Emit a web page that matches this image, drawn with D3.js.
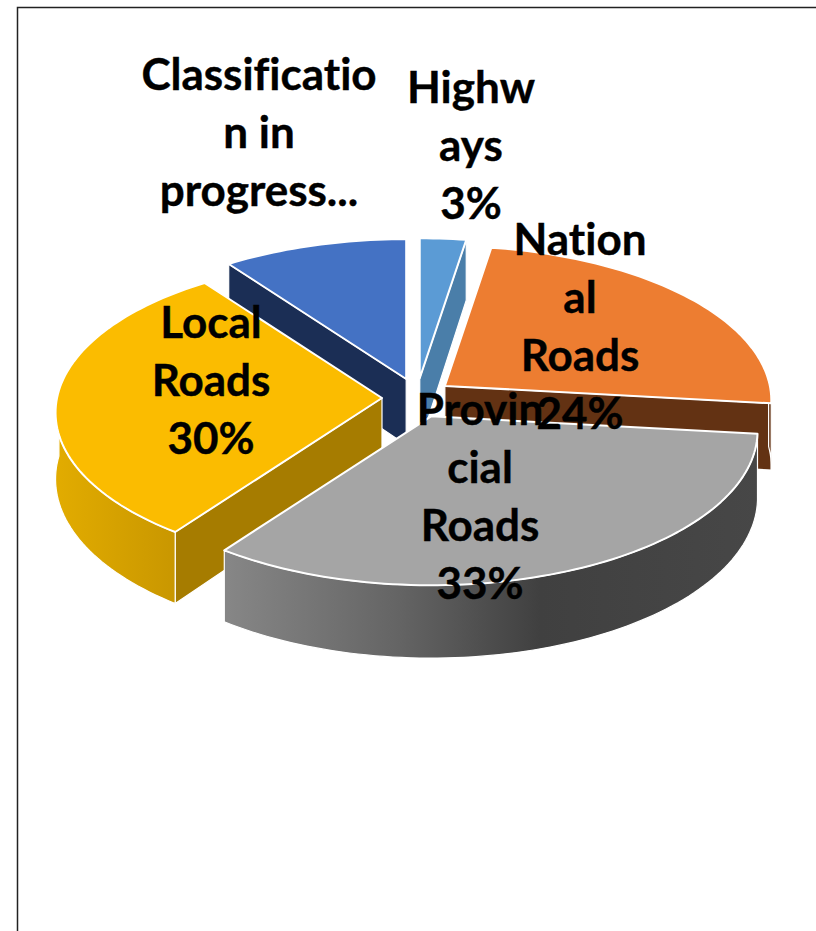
<!DOCTYPE html>
<html><head><meta charset="utf-8">
<style>html,body{margin:0;padding:0;background:#fff}svg{display:block}</style>
<script src="https://cdn.jsdelivr.net/npm/d3@7"></script></head>
<body><svg id="c" width="816" height="931"></svg>
<script>
const categories = ["Highways","National Roads","Provincial Roads","Local Roads","Classification in progress..."];
const values = [2.5,24.3,33.2,30,10];
const topColors = ["#5B9BD5","#ED7D31","#A5A5A5","#FBBC00","#4472C4"];
const wallColors = ["#4A7EA9","#633213","#5e5e5e","#A67C00","#1B2E55"];
const labelLines = [["Highw","ays","3%"],["Nation","al","Roads","24%"],["Provin","cial","Roads","33%"],["Local","Roads","30%"],["Classificatio","n in","progress..."]];
const labelX = [471,580,480,211,259];
const labelY = [103,255,425,338,90];
const drawOrder = [0,4,1,3,2];

const W=816,H=931,cx=417,cy=398,Rx=325,Ry=153,depth=66,persp=10.6,exX=35,exY=20,lh=58;
const svg=d3.select("#c");
const defs=svg.append("defs");
function grad(id,stops){
  const g=defs.append("linearGradient").attr("id",id).attr("gradientUnits","userSpaceOnUse")
    .attr("x1",stops[0][0]).attr("x2",stops[stops.length-1][0]).attr("y1",0).attr("y2",0);
  stops.forEach(s=>g.append("stop").attr("offset",(s[0]-stops[0][0])/(stops[stops.length-1][0]-stops[0][0])).attr("stop-color",s[1]));
  return `url(#${id})`;
}
const outerFills=[
  wallColors[0], wallColors[1],
  grad("gp",[[228,"#868686"],[400,"#646464"],[540,"#404040"],[760,"#474747"]]),
  grad("gl",[[55,"#E2AC00"],[175,"#C99700"]]),
  wallColors[4]
];
svg.append("path").attr("d",`M17.5 ${H} V7.5 H${W}`).attr("fill","none").attr("stroke","#222").attr("stroke-width",1.5);

const arcs=d3.pie().sort(null).startAngle(0).endAngle(2*Math.PI)(values);
const radius=d3.scaleLinear().domain([0,1]).range([0,1]);
function proj(a,r,ox,oy,down){
  const X=radius(r)*Math.sin(a),Y=radius(r)*Math.cos(a),s=persp/(persp+Y);
  return [cx+ox+Rx*X*s, cy+oy-Ry*Y*s+(down?depth*s:0)];
}
const line=d3.line();
drawOrder.forEach(i=>{
  const d=arcs[i],mid=(d.startAngle+d.endAngle)/2;
  const ox=exX*Math.sin(mid),oy=-exY*Math.cos(mid);
  const n=Math.max(4,Math.ceil((d.endAngle-d.startAngle)*40));
  const as=d3.range(n+1).map(k=>d.startAngle+(d.endAngle-d.startAngle)*k/n);
  const g=svg.append("g");
  const wall=(a)=>[proj(a,0,ox,oy,false),proj(a,1,ox,oy,false),proj(a,1,ox,oy,true),proj(a,0,ox,oy,true)];
  // only the cut faces that look towards the viewer are painted
  const faces=[];
  if(Math.sin(d.startAngle)<-1e-6) faces.push(d.startAngle);
  if(Math.sin(d.endAngle)>1e-6) faces.push(d.endAngle);
  faces.forEach(a=>g.append("path").attr("d",line(wall(a))+"Z")
    .attr("fill",wallColors[i]).attr("stroke","#fff").attr("stroke-width",1.2).attr("stroke-linejoin","round"));
  const up=as.map(a=>proj(a,1,ox,oy,false));
  const front=as.filter(a=>Math.cos(a)<=0.05);
  if(front.length>1){
    const fu=front.map(a=>proj(a,1,ox,oy,false)),fd=front.map(a=>proj(a,1,ox,oy,true)).reverse();
    g.append("path").attr("d",line(fu.concat(fd))+"Z").attr("fill",outerFills[i]).attr("stroke","#fff").attr("stroke-width",1.2).attr("stroke-linejoin","round");
  }
  g.append("path").attr("d",line([proj(0,0,ox,oy,false)].concat(up))+"Z").attr("fill",topColors[i]).attr("stroke","#fff").attr("stroke-width",2).attr("stroke-linejoin","round");
});
labelLines.forEach((ls,i)=>{
  const t=svg.append("text").attr("text-anchor","middle").attr("font-family","Lato, 'Open Sans', sans-serif").attr("font-weight",700).attr("font-size",44).attr("fill","#000")
    .attr("stroke","#000").attr("stroke-width",0.4).style("font-variant-ligatures","none");
  ls.forEach((s,k)=>t.append("tspan").attr("x",labelX[i]).attr("y",labelY[i]+k*lh).text(s));
});
</script></body></html>
